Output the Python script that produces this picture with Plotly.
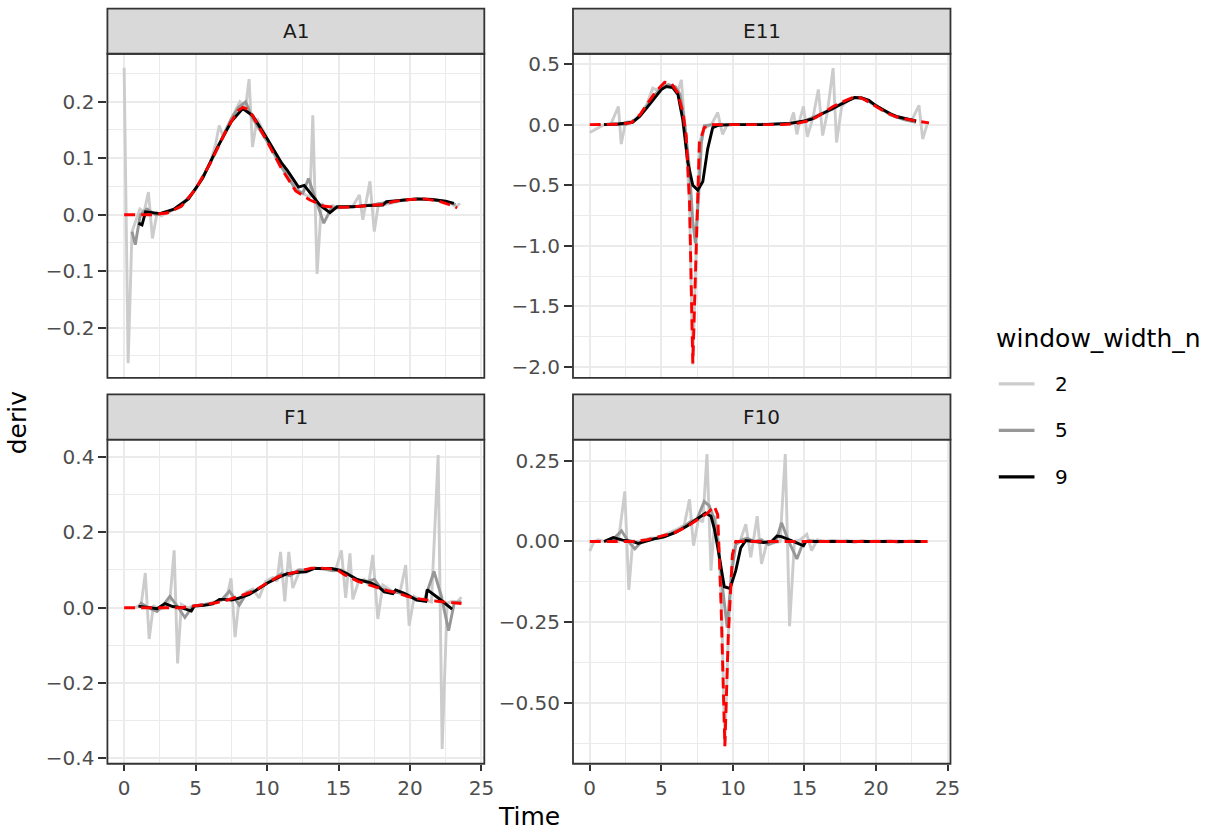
import plotly.graph_objects as go

# ---------------- data ----------------
panels = ["A1", "E11", "F1", "F10"]
series_names = ["2", "5", "9"]
series_colors = ["#CCCCCC", "#979797", "#000000"]
ref_color = "#FF0000"

# A1
a1_t2_x = [0, 0.28, 0.55, 0.8, 1.1, 1.4, 1.7, 1.98, 2.3, 2.6, 3.0, 3.5, 4.0, 4.5, 5.0, 5.5, 6.0, 6.4, 6.65, 6.9,
           7.3, 7.7, 8.1, 8.5, 8.74, 8.98, 9.3, 9.7, 10.2, 10.7, 11.2, 11.7, 12.2, 12.7, 13.0, 13.2, 13.5, 13.8, 14.2, 14.6,
           15.0, 15.5, 16.0, 16.46, 16.7, 17.2, 17.5, 17.8, 18.3, 18.8, 19.3, 19.8, 20.3, 20.8, 21.3, 21.8, 22.3, 22.8, 23.2, 23.5]
a1_t2_y = [0.26, -0.263, -0.03, -0.01, 0.01, 0.005, 0.04, -0.042, 0.003, -0.002, 0.004, 0.01, 0.02, 0.03, 0.045, 0.065, 0.09, 0.125, 0.158, 0.14,
           0.16, 0.18, 0.2, 0.19, 0.24, 0.12, 0.17, 0.15, 0.125, 0.105, 0.08, 0.062, 0.042, 0.035, 0.03, 0.176, -0.105, 0.02, 0.012, 0.016,
           0.012, 0.014, 0.015, 0.035, -0.009, 0.059, -0.03, 0.02, 0.018, 0.021, 0.024, 0.027, 0.027, 0.028, 0.028, 0.027, 0.024, 0.021, 0.014, 0.02]
a1_t5_x = [0.55, 0.78, 1.13, 1.6, 2.2, 3, 4, 5, 6, 7, 7.5, 8, 8.5, 9, 10, 11, 12, 12.5, 12.9, 13.5,
           13.97, 14.5, 15.5, 16.5, 17.5, 18.5, 19.5, 20.5, 21.5, 22.5, 23.2]
a1_t5_y = [-0.03, -0.053, 0.0, 0.01, 0.0, 0.004, 0.015, 0.045, 0.09, 0.145, 0.17, 0.19, 0.2, 0.17, 0.13, 0.085, 0.045, 0.038, 0.064, 0.02,
           -0.015, 0.012, 0.013, 0.015, 0.018, 0.022, 0.026, 0.028, 0.027, 0.023, 0.018]
a1_t9_x = [1.0, 1.25, 1.5, 2.5, 3.5, 4.5, 5.5, 6.5, 7.5, 8.3, 9.0, 10, 11, 11.43, 12.2, 12.6, 13.7, 14.4, 14.9, 16,
           17, 18.1, 18.35, 19.5, 20.5, 21.5, 22.5, 23.07]
a1_t9_y = [-0.015, -0.018, 0.005, 0.002, 0.01, 0.028, 0.065, 0.118, 0.165, 0.188, 0.175, 0.135, 0.092, 0.078, 0.049, 0.052, 0.017, 0.0035, 0.014, 0.014,
           0.016, 0.017, 0.023, 0.025, 0.028, 0.027, 0.024, 0.02]
a1_ref_x = [0, 1, 2, 3, 4, 5, 6, 7, 7.5, 8, 8.3, 8.7, 9, 10, 11, 12, 13, 14, 15, 16, 17, 18, 19, 20, 21, 22, 23, 23.3]
a1_ref_y = [0, 0, 0, 0.003, 0.015, 0.045, 0.09, 0.142, 0.165, 0.185, 0.19, 0.186, 0.175, 0.13, 0.082, 0.042, 0.026, 0.015, 0.013, 0.014,
            0.016, 0.018, 0.024, 0.027, 0.028, 0.024, 0.016, 0.012]

# E11
e11_t2_x = [0, 0.5, 1.0, 1.5, 2.0, 2.2, 2.5, 3.0, 3.5, 4.0, 4.4, 4.8, 5.3, 5.8, 6.1, 6.4, 6.7, 6.97, 7.2, 7.43,
            7.66, 8.0, 8.5, 8.94, 9.28, 9.6, 10, 11, 12, 13, 14.0, 14.24, 14.47, 14.7, 14.93, 15.2, 15.6, 15.97, 16.27, 16.6,
            17.0, 17.24, 17.6, 18.0, 18.5, 19, 19.5, 20, 20.5, 21, 21.5, 22, 22.5, 23.0, 23.26, 23.6]
e11_t2_y = [-0.065, -0.03, 0.0, 0.01, 0.15, -0.16, 0.02, 0.03, 0.08, 0.17, 0.3, 0.28, 0.33, 0.31, 0.25, 0.37, -0.1, -0.65, -1.98, -1.05,
            -0.15, -0.03, 0.0, 0.1, -0.08, 0.0, 0.0, 0.0, 0.0, 0.005, 0.01, 0.1, -0.08, 0.05, 0.15, -0.1, 0.06, 0.29, -0.09, 0.1,
            0.466, -0.147, 0.15, 0.2, 0.22, 0.22, 0.19, 0.15, 0.12, 0.09, 0.065, 0.05, 0.035, 0.16, -0.12, 0.015]
e11_t5_x = [1.0, 2.0, 2.5, 3.0, 3.5, 4.0, 4.5, 5.0, 5.5, 6.0, 6.3, 6.6, 6.97, 7.2, 7.38, 7.6, 7.8, 8.0, 8.5, 9,
            10, 12, 14, 15, 16, 17, 17.5, 18, 18.5, 19, 20, 21, 22, 22.8]
e11_t5_y = [0.0, 0.005, 0.0, 0.02, 0.07, 0.15, 0.24, 0.3, 0.33, 0.31, 0.25, 0.05, -0.37, -0.8, -0.98, -0.6, -0.15, -0.01, 0.0, 0.0,
            0.0, 0.0, 0.01, 0.03, 0.08, 0.13, 0.17, 0.2, 0.22, 0.22, 0.16, 0.08, 0.04, 0.02]
e11_t9_x = [1.0, 2.0, 3.0, 3.5, 4.0, 4.5, 5.0, 5.35, 5.8, 6.16, 6.5, 6.85, 7.2, 7.55, 7.9, 8.24, 8.59, 9.0, 10, 12,
            14, 15, 15.5, 16, 16.5, 17, 17.5, 18, 18.5, 19, 19.5, 20, 20.5, 21, 21.5, 22, 22.8]
e11_t9_y = [0.0, 0.005, 0.02, 0.07, 0.14, 0.22, 0.29, 0.315, 0.305, 0.25, 0.04, -0.31, -0.5, -0.54, -0.47, -0.2, -0.025, -0.005, 0.0, 0.0,
            0.01, 0.03, 0.045, 0.075, 0.105, 0.14, 0.17, 0.2, 0.225, 0.22, 0.2, 0.155, 0.12, 0.09, 0.065, 0.05, 0.03]
e11_ref_x = [0, 1, 2, 2.9, 3.5, 4.07, 4.6, 5.23, 5.7, 6.16, 6.5, 6.74, 6.97, 7.2, 7.43, 7.66, 8.0, 8.5, 10, 12,
             13.5, 14.5, 15.2, 15.8, 16.3, 17, 17.7, 18.3, 18.75, 19.3, 20.0, 20.7, 21.4, 22.1, 22.8, 23.7]
e11_ref_y = [0, 0, 0.003, 0.016, 0.08, 0.18, 0.27, 0.35, 0.34, 0.26, 0.1, -0.09, -0.64, -1.97, -1.05, -0.15, -0.025, 0, 0, 0,
             0, 0.01, 0.03, 0.06, 0.1, 0.15, 0.19, 0.22, 0.23, 0.2, 0.15, 0.1, 0.065, 0.045, 0.03, 0.015]

# F1
f1_t2_x = [0.8, 1.2, 1.48, 1.75, 2.05, 2.4, 2.8, 3.2, 3.5, 3.74, 4.0, 4.4, 4.8, 5.3, 5.8, 6.3, 6.8, 7.2, 7.48, 7.76,
           8.06, 8.5, 9.0, 9.44, 9.9, 10.4, 10.7, 10.94, 11.24, 11.52, 11.8, 12.3, 12.8, 13.3, 13.8, 14.3, 14.8, 15.2, 15.5, 15.8,
           16.0, 16.4, 16.8, 17.1, 17.4, 17.75, 18.1, 18.5, 18.9, 19.3, 19.7, 19.94, 20.3, 20.7, 21.1, 21.5, 21.97, 22.25, 22.6, 23.0,
           23.3, 23.6]
f1_t2_y = [0.0, 0.01, 0.092, -0.083, 0.006, -0.005, 0.0, 0.02, 0.152, -0.148, 0.009, 0.0, 0.003, 0.006, 0.01, 0.015, 0.02, 0.03, 0.078, -0.078,
           0.026, 0.04, 0.05, 0.026, 0.07, 0.08, 0.07, 0.148, 0.017, 0.148, 0.052, 0.1, 0.095, 0.105, 0.103, 0.1, 0.1, 0.152, 0.026, 0.144,
           0.022, 0.07, 0.075, 0.06, 0.14, -0.03, 0.06, 0.05, 0.04, 0.04, 0.113, -0.048, 0.03, 0.02, 0.02, 0.015, 0.405, -0.375, 0.013, 0.017,
           0.015, 0.028]
f1_t5_x = [1.1, 1.7, 2.3, 2.8, 3.2, 3.7, 4.25, 4.8, 5.5, 6.2, 6.8, 7.36, 8.06, 8.6, 9.2, 9.8, 10.4, 11.0, 11.6, 12.2,
           12.8, 13.4, 14.0, 14.6, 15.2, 15.8, 16.4, 17.0, 17.5, 18.0, 18.6, 19.2, 19.8, 20.4, 21.0, 21.68, 22.2, 22.7, 23.1, 23.6]
f1_t5_y = [0.014, 0.0, -0.01, 0.01, 0.03, 0.005, -0.026, 0.004, 0.008, 0.012, 0.02, 0.044, 0.007, 0.04, 0.045, 0.06, 0.075, 0.09, 0.085, 0.1,
           0.1, 0.105, 0.103, 0.098, 0.1, 0.085, 0.072, 0.07, 0.075, 0.05, 0.045, 0.04, 0.035, 0.02, 0.02, 0.096, 0.03, -0.061, 0.013, 0.016]
f1_t9_x = [1.0, 1.6, 2.3, 2.86, 3.4, 4.0, 4.7, 4.9, 5.6, 6.2, 6.67, 7.0, 7.5, 8.0, 8.75, 9.4, 10.0, 10.8, 11.4, 12.2,
           12.7, 13.3, 14.0, 14.5, 15.0, 15.6, 16.3, 16.8, 17.3, 17.8, 18.2, 18.8, 19.0, 19.6, 20.5, 21.1, 21.2, 22.0, 22.95]
f1_t9_y = [0.004, 0.001, -0.003, 0.011, 0.003, 0.0, -0.009, 0.004, 0.006, 0.01, 0.022, 0.022, 0.02, 0.025, 0.035, 0.05, 0.065, 0.08, 0.09, 0.094,
           0.095, 0.104, 0.104, 0.104, 0.1, 0.09, 0.075, 0.07, 0.065, 0.055, 0.042, 0.037, 0.047, 0.038, 0.02, 0.017, 0.048, 0.025, -0.004]
f1_ref_x = [0, 1, 2, 3, 4, 4.8, 5.6, 6.44, 7.2, 8.06, 8.8, 9.44, 10.1, 10.83, 11.5, 12.2, 13.1, 13.8, 14.5, 15.0,
            15.44, 16.36, 17.0, 17.75, 18.4, 19.13, 19.8, 20.5, 21.2, 21.9, 22.7, 23.6]
f1_ref_y = [0, 0, 0, 0, 0, 0.004, 0.008, 0.013, 0.02, 0.03, 0.04, 0.052, 0.068, 0.083, 0.09, 0.096, 0.105, 0.105, 0.103, 0.098,
            0.087, 0.07, 0.062, 0.052, 0.045, 0.039, 0.03, 0.024, 0.02, 0.017, 0.014, 0.011]

# F10
f10_t2_x = [0, 0.3, 0.6, 1.0, 1.5, 2.0, 2.45, 2.73, 3.0, 3.4, 3.8, 4.2, 4.7, 5.2, 5.7, 6.2, 6.6, 6.97, 7.25, 7.6,
            7.9, 8.19, 8.47, 8.75, 9.0, 9.2, 9.44, 9.68, 9.97, 10.2, 10.5, 10.9, 11.25, 11.7, 12.0, 12.4, 12.8, 13.3, 13.66, 13.96,
            14.3, 14.7, 15.16, 15.5, 15.9, 16.5, 17, 17.5, 18, 18.5, 19, 19.5, 20, 20.5, 21, 21.5, 22, 22.5, 23, 23.6]
f10_t2_y = [-0.03, 0.0, 0.005, 0.0, 0.01, 0.0, 0.155, -0.15, 0.0, 0.0, 0.005, 0.01, 0.012, 0.02, 0.03, 0.04, 0.05, 0.13, -0.013, 0.07,
            0.06, 0.27, -0.09, 0.08, 0.0, -0.19, -0.633, -0.29, -0.04, -0.01, 0.0, 0.053, -0.049, 0.078, -0.069, 0.0, -0.005, 0.0, 0.27, -0.262,
            0.0, 0.005, 0.022, -0.028, 0.005, 0.0, 0.003, 0.0, 0.002, -0.003, 0.003, 0.0, 0.002, 0.0, 0.002, -0.003, 0.0, 0.002, 0.0, 0.0]
f10_t5_x = [1.0, 1.6, 2.22, 2.7, 3.15, 3.7, 4.3, 5.0, 5.7, 6.4, 7.0, 7.5, 8.0, 8.35, 8.7, 9.0, 9.3, 9.6, 9.9, 10.2,
            10.6, 11.0, 11.5, 12.0, 12.5, 13.0, 13.4, 13.9, 14.47, 14.9, 15.3, 16, 17, 18, 19, 20, 21, 22, 23]
f10_t5_y = [0.0, 0.005, 0.033, 0.0, -0.023, 0.003, 0.008, 0.012, 0.025, 0.04, 0.06, 0.07, 0.124, 0.11, 0.07, -0.02, -0.15, -0.266, -0.1, -0.01,
            0.005, 0.01, 0.0, 0.005, -0.01, 0.0, 0.058, 0.0, -0.054, -0.005, 0.003, 0.0, 0.001, 0.0, 0.001, 0.0, 0.001, 0.0, 0.0]
f10_t9_x = [1.0, 1.64, 2.3, 3.0, 3.38, 3.8, 4.5, 5.2, 6.0, 6.8, 7.55, 8.1, 8.47, 8.7, 8.94, 9.2, 9.4, 9.8, 10.2, 10.55,
            10.9, 11.5, 12.15, 12.7, 13.08, 13.4, 14.0, 14.93, 15.1, 16, 18, 20, 22, 23.5]
f10_t9_y = [0.0, 0.012, 0.004, 0.0, -0.006, 0.0, 0.008, 0.014, 0.028, 0.048, 0.07, 0.088, 0.078, 0.04, -0.018, -0.09, -0.14, -0.145, -0.09, -0.02,
            0.003, 0.0, -0.003, 0.0, 0.017, 0.015, 0.005, -0.013, 0.0, 0.0, 0.0, 0.0, 0.0, 0.0]
f10_ref_x = [0, 1, 2, 3, 4, 4.77, 5.93, 6.85, 7.55, 8.24, 8.7, 8.94, 9.17, 9.44, 9.68, 9.97, 10.2, 12, 14, 16, 18, 20, 22, 23.6]
f10_ref_y = [0, 0, 0, 0, 0.005, 0.014, 0.027, 0.048, 0.068, 0.088, 0.109, 0.083, -0.19, -0.633, -0.29, -0.04, 0, 0, 0, 0, 0, 0, 0, 0]

# ticks
x_tick_vals = [0, 5, 10, 15, 20, 25]
x_tick_text = ["0", "5", "10", "15", "20", "25"]
a1_tick_vals = [-0.2, -0.1, 0.0, 0.1, 0.2]
a1_tick_text = ["\u22120.2", "\u22120.1", "0.0", "0.1", "0.2"]
e11_tick_vals = [-2.0, -1.5, -1.0, -0.5, 0.0, 0.5]
e11_tick_text = ["\u22122.0", "\u22121.5", "\u22121.0", "\u22120.5", "0.0", "0.5"]
f1_tick_vals = [-0.4, -0.2, 0.0, 0.2, 0.4]
f1_tick_text = ["\u22120.4", "\u22120.2", "0.0", "0.2", "0.4"]
f10_tick_vals = [-0.5, -0.25, 0.0, 0.25]
f10_tick_text = ["\u22120.50", "\u22120.25", "0.00", "0.25"]

# ---------------- layout geometry ----------------
W, H = 1225, 839
FONT = "DejaVu Sans"
TICK_SIZE = 20
TITLE_SIZE = 25
GRID = "#EBEBEB"
DARK = "#333333"

def px_x(p):
    return p / W

def px_y(p):
    return 1 - p / H

col_dom = [[px_x(108.3), px_x(488.3)], [px_x(577.7), px_x(958.3)]]
row_dom = [[px_y(380), px_y(52.3)], [px_y(770), px_y(442.3)]]
strip_dom = [[px_y(52.3), px_y(6.7)], [px_y(442.3), px_y(396.7)]]

panel_data = {
    "A1": [(a1_t2_x, a1_t2_y), (a1_t5_x, a1_t5_y), (a1_t9_x, a1_t9_y), (a1_ref_x, a1_ref_y)],
    "E11": [(e11_t2_x, e11_t2_y), (e11_t5_x, e11_t5_y), (e11_t9_x, e11_t9_y), (e11_ref_x, e11_ref_y)],
    "F1": [(f1_t2_x, f1_t2_y), (f1_t5_x, f1_t5_y), (f1_t9_x, f1_t9_y), (f1_ref_x, f1_ref_y)],
    "F10": [(f10_t2_x, f10_t2_y), (f10_t5_x, f10_t5_y), (f10_t9_x, f10_t9_y), (f10_ref_x, f10_ref_y)],
}
for k, v in panel_data.items():
    for xs, ys in v:
        assert len(xs) == len(ys), (k, len(xs), len(ys))

y_info = {
    "A1": (a1_tick_vals, a1_tick_text, [-0.289, 0.285], [-0.25, -0.15, -0.05, 0.05, 0.15, 0.25]),
    "E11": (e11_tick_vals, e11_tick_text, [-2.09, 0.585], [-1.75, -1.25, -0.75, -0.25, 0.25]),
    "F1": (f1_tick_vals, f1_tick_text, [-0.414, 0.446], [-0.3, -0.1, 0.1, 0.3]),
    "F10": (f10_tick_vals, f10_tick_text, [-0.687, 0.315], [-0.625, -0.375, -0.125, 0.125]),
}
x_range = [-1.17, 25.2]
x_minor = [2.5, 7.5, 12.5, 17.5, 22.5]

fig = go.Figure()
layout = dict(
    width=W, height=H, margin=dict(l=0, r=0, t=0, b=0),
    paper_bgcolor="white", plot_bgcolor="white", showlegend=False,
    font=dict(family=FONT, color="#000000"),
)
shapes = []
annotations = []

for i, name in enumerate(panels):
    r, c = divmod(i, 2)
    sfx = "" if i == 0 else str(i + 1)
    xa, ya = "x" + sfx, "y" + sfx
    for j, (xs, ys) in enumerate(panel_data[name]):
        if j < 3:
            line = dict(color=series_colors[j], width=2.9)
        else:
            line = dict(color=ref_color, width=2.9, dash="11px,6px")
        fig.add_trace(go.Scatter(x=xs, y=ys, mode="lines", line=line, xaxis=xa, yaxis=ya,
                                 name=series_names[j] if j < 3 else "reference",
                                 hoverinfo="x+y"))
    bottom = (r == 1)
    layout["xaxis" + sfx] = dict(
        domain=col_dom[c], anchor=ya, range=x_range,
        tickmode="array", tickvals=x_tick_vals, ticktext=x_tick_text,
        showticklabels=bottom, ticks="outside" if bottom else "", ticklen=6, tickwidth=1.6, tickcolor=DARK,
        tickfont=dict(family=FONT, size=TICK_SIZE, color="#4D4D4D"),
        showgrid=True, gridcolor=GRID, gridwidth=2.2, zeroline=False, showline=False,
        minor=dict(tickvals=x_minor, showgrid=True, gridcolor=GRID, gridwidth=1.1, ticks=""),
    )
    tv, tt, yr, ym = y_info[name]
    layout["yaxis" + sfx] = dict(
        domain=row_dom[r], anchor=xa, range=yr,
        tickmode="array", tickvals=tv, ticktext=tt,
        ticks="outside", ticklen=8, tickwidth=1.6, tickcolor=DARK,
        tickfont=dict(family=FONT, size=TICK_SIZE, color="#4D4D4D"),
        showgrid=True, gridcolor=GRID, gridwidth=2.2, zeroline=False, showline=False,
        minor=dict(tickvals=ym, showgrid=True, gridcolor=GRID, gridwidth=1.1, ticks=""),
    )
    # panel border
    shapes.append(dict(type="rect", xref="paper", yref="paper",
                       x0=col_dom[c][0], x1=col_dom[c][1], y0=row_dom[r][0], y1=row_dom[r][1],
                       line=dict(color=DARK, width=1.8), fillcolor="rgba(0,0,0,0)", layer="above"))
    # strip
    shapes.append(dict(type="rect", xref="paper", yref="paper",
                       x0=col_dom[c][0], x1=col_dom[c][1], y0=strip_dom[r][0], y1=strip_dom[r][1],
                       line=dict(color=DARK, width=1.8), fillcolor="#D9D9D9", layer="above"))
    annotations.append(dict(text=name, xref="paper", yref="paper",
                            x=(col_dom[c][0] + col_dom[c][1]) / 2, y=(strip_dom[r][0] + strip_dom[r][1]) / 2,
                            xanchor="center", yanchor="middle", showarrow=False,
                            font=dict(family=FONT, size=TICK_SIZE, color="#1A1A1A")))

# axis titles
annotations.append(dict(text="Time", xref="paper", yref="paper", x=px_x(533), y=px_y(823),
                        xanchor="center", yanchor="middle", showarrow=False,
                        font=dict(family=FONT, size=TITLE_SIZE, color="#000000")))
annotations.append(dict(text="deriv", xref="paper", yref="paper", x=px_x(18), y=px_y(425),
                        xanchor="center", yanchor="middle", showarrow=False, textangle=-90,
                        font=dict(family=FONT, size=TITLE_SIZE, color="#000000")))

# legend (drawn)
annotations.append(dict(text="window_width_n", xref="paper", yref="paper", x=px_x(1002), y=px_y(340),
                        xanchor="left", yanchor="middle", showarrow=False,
                        font=dict(family=FONT, size=TITLE_SIZE, color="#000000")))
legend_y = [386, 433, 480]
for j, lab in enumerate(series_names):
    shapes.append(dict(type="line", xref="paper", yref="paper",
                       x0=px_x(1007), x1=px_x(1043), y0=px_y(legend_y[j]), y1=px_y(legend_y[j]),
                       line=dict(color=series_colors[j], width=3.2)))
    annotations.append(dict(text=lab, xref="paper", yref="paper", x=px_x(1062), y=px_y(legend_y[j]),
                            xanchor="left", yanchor="middle", showarrow=False,
                            font=dict(family=FONT, size=TICK_SIZE, color="#000000")))

layout["shapes"] = shapes
layout["annotations"] = annotations
fig.update_layout(**layout)
fig.write_html("out.html", config={"displayModeBar": False},
               post_script="document.body.style.margin='0px';document.body.style.overflow='hidden';")
